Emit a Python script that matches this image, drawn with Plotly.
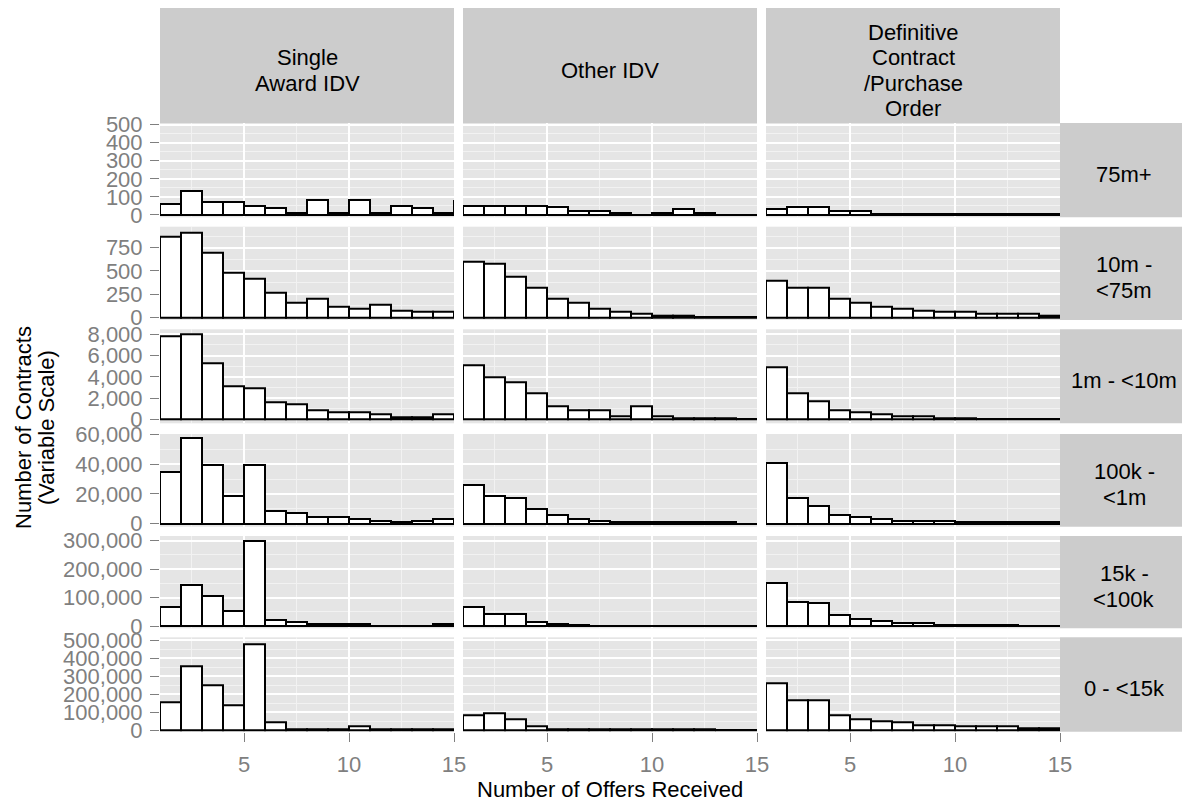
import plotly.graph_objects as go

# ---- data -------------------------------------------------------------
# Histogram bins: number of offers received (bin [k, k+1))
offers = [1, 2, 3, 4, 5, 6, 7, 8, 9, 10, 11, 12, 13, 14, 15]

award_types = ["Single\nAward IDV", "Other IDV", "Definitive\nContract\n/Purchase\nOrder"]
size_ranges = ["75m+", "10m -\n<75m", "1m - <10m", "100k -\n<1m", "15k -\n<100k", "0 - <15k"]

# Contract counts per bin, one list per (size range, award type) panel
single_75m = [61, 134, 70, 70, 50, 40, 10, 83, 10, 83, 10, 52, 40, 10, 75]
other_75m = [50, 50, 50, 50, 42, 22, 22, 13, 0, 12, 35, 12, 0, 0, 0]
defin_75m = [35, 44, 44, 24, 24, 8, 8, 8, 8, 8, 8, 8, 8, 8, 0]

single_10m = [866, 916, 700, 481, 420, 262, 162, 197, 115, 89, 140, 75, 57, 57, 0]
other_10m = [596, 578, 438, 319, 197, 158, 93, 61, 43, 15, 15, 0, 0, 0, 0]
defin_10m = [399, 316, 316, 201, 158, 111, 93, 75, 57, 57, 39, 39, 39, 17, 0]

single_1m = [7840, 8000, 5270, 3105, 2945, 1600, 1374, 875, 621, 621, 470, 150, 150, 470, 0]
other_1m = [5080, 3980, 3480, 2447, 1186, 847, 847, 310, 1186, 310, 120, 120, 120, 0, 0]
defin_1m = [4860, 2447, 1722, 847, 659, 470, 310, 310, 120, 120, 0, 0, 0, 0, 0]

single_100k = [34750, 57240, 39730, 18850, 39730, 8500, 7140, 4450, 4450, 2900, 2020, 1100, 2020, 3100, 0]
other_100k = [26260, 18600, 17240, 9630, 6060, 3100, 2020, 1000, 1000, 1000, 1000, 1000, 1000, 0, 0]
defin_100k = [41080, 17240, 12120, 6060, 4450, 3100, 2020, 2020, 2020, 1000, 1000, 1000, 1000, 1000, 0]

single_15k = [65700, 144400, 105600, 52800, 300400, 21100, 13000, 6000, 6000, 6000, 0, 0, 0, 6000, 0]
other_15k = [65800, 43300, 43300, 15100, 7000, 5000, 0, 0, 0, 0, 0, 0, 0, 0, 0]
defin_15k = [150300, 85600, 79900, 37600, 25800, 18700, 11600, 11600, 5000, 5000, 5000, 5000, 0, 0, 0]

single_0 = [153700, 351900, 248100, 135200, 476000, 40700, 5000, 5000, 5000, 22200, 5000, 5000, 5000, 5000, 0]
other_0 = [81500, 94400, 61100, 22200, 6000, 6000, 6000, 6000, 6000, 6000, 6000, 6000, 0, 0, 0]
defin_0 = [257300, 163000, 163000, 81500, 59300, 48100, 40700, 27800, 27800, 18500, 18500, 18500, 7000, 7000, 0]

# y-axis (free scale per size range): range and tick step
y_ranges = [[-13, 509], [-29, 976], [-376, 8470], [-2000, 60200], [-8100, 316500], [-9400, 515000]]
y_steps = [100, 250, 2000, 20000, 100000, 100000]

panels = [
    [single_75m, other_75m, defin_75m],
    [single_10m, other_10m, defin_10m],
    [single_1m, other_1m, defin_1m],
    [single_100k, other_100k, defin_100k],
    [single_15k, other_15k, defin_15k],
    [single_0, other_0, defin_0],
]

# ---- layout geometry (pixels) ----------------------------------------
W, H = 1182, 802
col_x = [(160, 454), (463, 757), (766, 1060)]
row_top = [123, 226.7, 329.3, 434, 536, 637.3]
row_bot = [217.3, 320, 423.3, 526.7, 628.3, 731.7]
strip_top = (8, 123)
strip_right = (1060, 1182)


def fx(x):
    return x / W


def fy(y):
    return 1 - y / H


FONT = "Liberation Sans, Arial, sans-serif"
TICK_GREY = "#7f7f7f"
STRIP_BG = "#cccccc"

fig = go.Figure()
layout = dict(
    width=W, height=H,
    margin=dict(l=0, r=0, t=0, b=0, pad=0, autoexpand=False),
    paper_bgcolor="white",
    plot_bgcolor="#e5e5e5",
    bargap=0,
    showlegend=False,
    font=dict(family=FONT, size=22, color="black"),
)

centers = [o + 0.5 for o in offers]
k = 0
for r in range(6):
    for c in range(3):
        k += 1
        sfx = "" if k == 1 else str(k)
        fig.add_trace(go.Bar(
            x=centers, y=panels[r][c], width=1,
            xaxis="x" + sfx, yaxis="y" + sfx,
            marker=dict(color="white", line=dict(color="black", width=2)),
            hoverinfo="skip",
        ))
        bottom_row = r == 5
        first_col = c == 0
        layout["xaxis" + sfx] = dict(
            domain=[fx(col_x[c][0]), fx(col_x[c][1])],
            anchor="y" + sfx,
            range=[1, 15], tick0=0, dtick=5,
            showgrid=True, gridcolor="white", gridwidth=2,
            minor=dict(dtick=2.5, showgrid=True, gridcolor="#f2f2f2", gridwidth=1),
            zeroline=False, showline=False,
            ticks="outside" if bottom_row else "", ticklen=9, tickwidth=1, tickcolor=TICK_GREY,
            showticklabels=bottom_row, ticklabelstandoff=4,
            tickfont=dict(size=22, color=TICK_GREY, family=FONT),
            fixedrange=True,
        )
        layout["yaxis" + sfx] = dict(
            domain=[fy(row_bot[r]), fy(row_top[r])],
            anchor="x" + sfx,
            range=y_ranges[r], tick0=0, dtick=y_steps[r],
            showgrid=True, gridcolor="white", gridwidth=2,
            minor=dict(dtick=y_steps[r] / 2, showgrid=True, gridcolor="#f2f2f2", gridwidth=1),
            zeroline=True, zerolinecolor="black", zerolinewidth=2,
            showline=False,
            ticks="outside" if first_col else "", ticklen=9, tickwidth=1, tickcolor=TICK_GREY,
            showticklabels=first_col, tickformat=",d", ticklabelstandoff=3,
            tickfont=dict(size=22, color=TICK_GREY, family=FONT),
            fixedrange=True,
        )

shapes = []
annotations = []

# column strips (award type)
LINE = 25.5
for c, label in enumerate(award_types):
    shapes.append(dict(type="rect", xref="paper", yref="paper", layer="below",
                       x0=fx(col_x[c][0]), x1=fx(col_x[c][1]),
                       y0=fy(strip_top[1]), y1=fy(strip_top[0]),
                       fillcolor=STRIP_BG, line=dict(width=0)))
    lines = label.split("\n")
    mid = (strip_top[0] + strip_top[1]) / 2 + 5
    for i, ln in enumerate(lines):
        yy = mid + (i - (len(lines) - 1) / 2) * LINE
        annotations.append(dict(text=ln, xref="paper", yref="paper",
                                x=fx((col_x[c][0] + col_x[c][1]) / 2), y=fy(yy),
                                xanchor="center", yanchor="middle", showarrow=False,
                                font=dict(size=22, color="black", family=FONT)))

# row strips (contract size range)
for r, label in enumerate(size_ranges):
    shapes.append(dict(type="rect", xref="paper", yref="paper", layer="below",
                       x0=fx(strip_right[0]), x1=fx(strip_right[1]),
                       y0=fy(row_bot[r]), y1=fy(row_top[r]),
                       fillcolor=STRIP_BG, line=dict(width=0)))
    lines = label.split("\n")
    mid = (row_top[r] + row_bot[r]) / 2 + 4
    for i, ln in enumerate(lines):
        yy = mid + (i - (len(lines) - 1) / 2) * 26
        annotations.append(dict(text=ln, xref="paper", yref="paper",
                                x=fx(1124), y=fy(yy),
                                xanchor="center", yanchor="middle", showarrow=False,
                                font=dict(size=22, color="black", family=FONT)))

# axis titles
annotations.append(dict(text="Number of Offers Received", xref="paper", yref="paper",
                        x=fx(609.5), y=fy(789), xanchor="center", yanchor="middle",
                        showarrow=False, font=dict(size=22, color="black", family=FONT)))
for ln, xx in (("Number of Contracts", 24), ("(Variable Scale)", 47)):
    annotations.append(dict(text=ln, xref="paper", yref="paper", textangle=-90,
                            x=fx(xx), y=fy(428), xanchor="center", yanchor="middle",
                            showarrow=False, font=dict(size=22, color="black", family=FONT)))

layout["shapes"] = shapes
layout["annotations"] = annotations
fig.update_layout(**layout)

fig.write_html("out.html")
